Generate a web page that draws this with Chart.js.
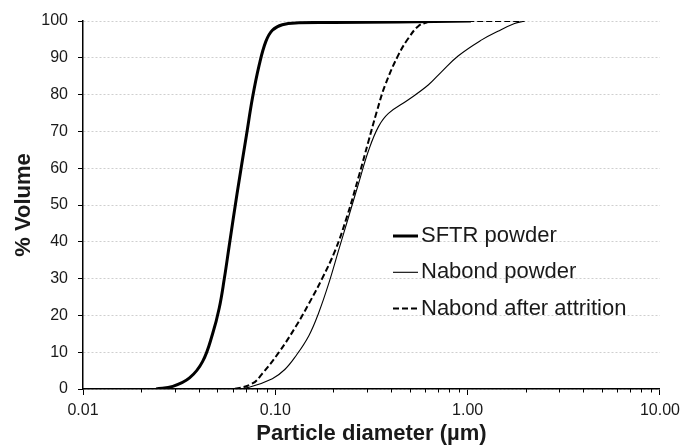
<!DOCTYPE html>
<html>
<head>
<meta charset="utf-8">
<script src="https://cdn.jsdelivr.net/npm/chart.js@4.4.1/dist/chart.umd.min.js"></script>
<style>
html,body{margin:0;padding:0;background:#ffffff;}
#wrap{width:686px;height:446px;position:relative;}
</style>
</head>
<body>
<div id="wrap"><canvas id="c" width="686" height="446"></canvas></div>
<script>
// ---- data ----
const seriesNames = ['SFTR powder', 'Nabond powder', 'Nabond after attrition'];

const sftrSize = [0.0240, 0.0293, 0.0358, 0.0419, 0.0472, 0.0511, 0.0543, 0.0576, 0.0632, 0.0708, 0.0760, 0.0824, 0.0892, 0.0965, 0.1087, 0.1326, 0.2000, 0.4365, 1.040];
const sftrVol  = [0,      0.7,    3,      7.5,    15,     22,     30,     39,     53,     69,     79,     88,     94.4,   97.5,   99.0,   99.5,   99.6,   99.7,   100];

const nabondSize = [0.040, 0.0597, 0.0731, 0.0965, 0.1120, 0.1275, 0.1494, 0.1683, 0.1896, 0.2136, 0.2405, 0.2710, 0.3053, 0.3439, 0.3875, 0.4917, 0.6237, 0.7311, 0.8919, 1.177, 1.436, 1.753, 1.974];
const nabondVol  = [0,     0,      0.5,    2.8,    5.3,    8.9,    14.5,   20.8,   28.7,   37.8,   46.8,   55.9,   64.8,   71.3,   74.9,   78.6,   82.6,   86.2,   90.5,   94.8,  97.2,  99.3,  100];

const attrSize = [0.040, 0.0597, 0.0760, 0.0856, 0.1045, 0.1275, 0.1494, 0.1751, 0.2053, 0.2357, 0.2710, 0.3053, 0.3370, 0.3725, 0.4365, 0.4917, 0.5538, 0.6114, 0.6600, 1.000, 1.500, 1.974];
const attrVol  = [0,     0,      1.5,    4.2,    10,     16.9,   23.2,   30,     37.8,   46.8,   57.6,   67.4,   75.4,   82.6,   90.8,   95.3,   98.6,   99.6,   100,    100,   100,   100];

const xTickValues = [0.01, 0.1, 1, 10];
const xTickLabels = ['0.01', '0.10', '1.00', '10.00'];
const yTickValues = [0, 10, 20, 30, 40, 50, 60, 70, 80, 90, 100];

const xTitle = 'Particle diameter (\u00b5m)';
const yTitle = '% Volume';

// ---- helpers ----
function toPoints(xs, ys) { return xs.map((x, i) => ({ x: x, y: ys[i] })); }
function majorIndex(v) {
  return xTickValues.findIndex(d => Math.abs(d - v) / d < 1e-6);
}
const FONT = "'Liberation Sans', Arial, sans-serif";
const TEXT = '#1a1a1a';

const styles = [
  { borderWidth: 3,   borderDash: [] },
  { borderWidth: 1.1, borderDash: [] },
  { borderWidth: 2,   borderDash: [6, 3] }
];

const datasets = [
  toPoints(sftrSize, sftrVol),
  toPoints(nabondSize, nabondVol),
  toPoints(attrSize, attrVol)
].map((pts, i) => ({
  label: seriesNames[i],
  data: pts,
  showLine: true,
  borderColor: '#000',
  backgroundColor: '#000',
  borderWidth: styles[i].borderWidth,
  borderDash: styles[i].borderDash,
  pointRadius: 0,
  pointHoverRadius: 0,
  tension: 0.4,
  fill: false
}));

// minor ticks on the log axis + in-plot legend
const extras = {
  id: 'extras',
  afterDraw(chart) {
    const ctx = chart.ctx;
    const xs = chart.scales.x;
    const ca = chart.chartArea;
    ctx.save();
    ctx.strokeStyle = '#000';
    ctx.lineWidth = 1;
    xs.ticks.forEach(t => {
      if (majorIndex(t.value) >= 0) return;
      const px = Math.round(xs.getPixelForValue(t.value)) + 0.5;
      ctx.beginPath();
      ctx.moveTo(px, ca.bottom);
      ctx.lineTo(px, ca.bottom + 3.5);
      ctx.stroke();
    });
    // legend
    const lx1 = ca.left + 310, lx2 = ca.left + 335, tx = ca.left + 338;
    const ly0 = ca.top + 215, dy = 36.3;
    ctx.font = '22px ' + FONT;
    ctx.fillStyle = TEXT;
    ctx.textBaseline = 'middle';
    ctx.textAlign = 'left';
    chart.data.datasets.forEach((ds, i) => {
      const y = ly0 + i * dy;
      ctx.beginPath();
      ctx.lineWidth = ds.borderWidth;
      ctx.setLineDash(ds.borderDash || []);
      ctx.moveTo(lx1, y);
      ctx.lineTo(lx2, y);
      ctx.stroke();
      ctx.setLineDash([]);
      ctx.fillText(ds.label, tx, y);
    });
    ctx.restore();
  }
};

new Chart(document.getElementById('c'), {
  type: 'scatter',
  data: { datasets: datasets },
  plugins: [extras],
  options: {
    responsive: false,
    animation: false,
    devicePixelRatio: 1,
    layout: { padding: { left: 2, right: 23, top: 21, bottom: 0 } },
    plugins: { legend: { display: false }, tooltip: { enabled: false } },
    scales: {
      x: {
        type: 'logarithmic',
        min: 0.01,
        max: 10,
        afterBuildTicks(scale) {
          const t = [];
          for (let d = 0; d < xTickValues.length - 1; d++) {
            for (let k = 1; k <= 9; k++) t.push({ value: xTickValues[d] * k });
          }
          t.push({ value: xTickValues[xTickValues.length - 1] });
          scale.ticks = t;
        },
        afterFit(scale) { scale.height = 57; },
        grid: {
          drawOnChartArea: false,
          drawTicks: true,
          tickLength: 6,
          tickWidth: 1,
          tickColor: (c) => (c.tick && majorIndex(c.tick.value) >= 0) ? '#000' : 'rgba(0,0,0,0)'
        },
        border: { display: true, color: '#000', width: 1.5 },
        ticks: {
          autoSkip: false,
          maxRotation: 0,
          minRotation: 0,
          padding: 6,
          color: TEXT,
          font: { family: FONT, size: 16 },
          callback: (v) => { const i = majorIndex(v); return i >= 0 ? xTickLabels[i] : ''; }
        },
        title: {
          display: true,
          text: xTitle,
          color: TEXT,
          font: { family: FONT, size: 22, weight: 'bold', lineHeight: 1.1 },
          padding: { top: 0, bottom: 0 }
        }
      },
      y: {
        min: 0,
        max: 100,
        afterBuildTicks(scale) { scale.ticks = yTickValues.map(v => ({ value: v })); },
        afterFit(scale) { scale.width = 81; },
        grid: {
          drawOnChartArea: true,
          color: '#cfcfcf',
          lineWidth: 1,
          tickLength: 5,
          tickColor: '#000',
          tickWidth: 1
        },
        border: { display: true, color: '#000', width: 1.5, dash: [2, 2] },
        ticks: {
          padding: 10,
          color: TEXT,
          font: { family: FONT, size: 16 },
          callback: (v) => String(v)
        },
        title: {
          display: true,
          text: yTitle,
          color: TEXT,
          font: { family: FONT, size: 22, weight: 'bold', lineHeight: 1.1 },
          padding: { top: 10, bottom: 0 }
        }
      }
    }
  }
});
</script>
</body>
</html>
